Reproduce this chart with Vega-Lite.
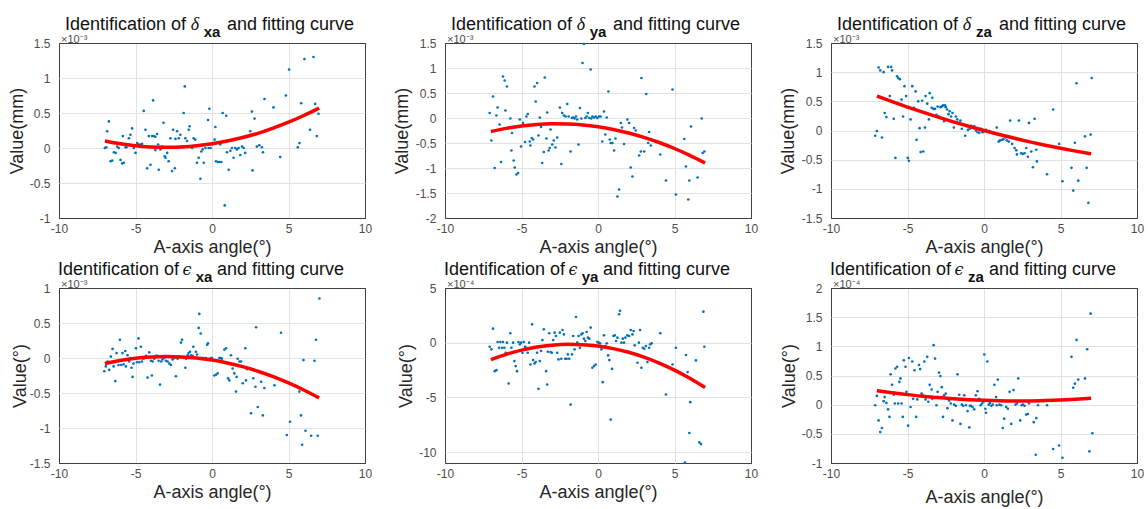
{
"$schema": "https://vega.github.io/schema/vega-lite/v6.json",
"background": "white",
"padding": {"left": 7, "top": 15, "right": 5, "bottom": 2},
"columns": 3,
"spacing": {"row": 70, "column": 80},
"bounds": "flush",
"config": {
 "font": "Liberation Sans",
 "view": {"stroke": "#404040", "strokeWidth": 1},
 "axis": {"domain": false, "ticks": false, "grid": true, "gridColor": "#e2e2e2", "labelFlush": false, "labelOverlap": false, "labelFont": "Liberation Sans", "labelFontSize": 12, "labelColor": "#4d4d4d", "titleFont": "Liberation Sans", "titleFontSize": 18, "titleFontWeight": "normal", "titleColor": "#262626"},
 "axisX": {"labelPadding": 5},
 "axisY": {"labelPadding": 9}
},
"concat": [
 {"width": 306, "height": 175,
  "layer": [
   {"data": {"name": "p1"}, "mark": {"type": "circle", "size": 7, "color": "#0072BD", "opacity": 1},
    "encoding": {
     "x": {"field": "x", "type": "quantitative", "scale": {"domain": [-10, 10], "nice": false, "zero": false}, "axis": {"values": [-10, -5, 0, 5, 10], "title": "A-axis angle(°)", "labelExpr": "'' + datum.value", "titlePadding": 4, "labelOverlap": false, "gridColor": {"condition": {"test": "abs(datum.value) == 10", "value": "#404040"}, "value": "#e2e2e2"}}},
     "y": {"field": "y", "type": "quantitative", "scale": {"domain": [-1, 1.5], "nice": false, "zero": false}, "axis": {"values": [-1, -0.5, 0, 0.5, 1, 1.5], "title": "Value(mm)", "labelExpr": "'' + datum.value", "titlePadding": 3, "labelOverlap": false, "gridColor": {"condition": {"test": "datum.value == -1 || datum.value == 1.5", "value": "#404040"}, "value": "#e2e2e2"}}}}},
   {"data": {"name": "c1"}, "mark": {"type": "line", "color": "#FF0000", "strokeWidth": 3.5, "interpolate": "monotone"},
    "encoding": {
     "x": {"field": "x", "type": "quantitative", "scale": {"domain": [-10, 10], "nice": false, "zero": false}, "axis": {"values": [-10, -5, 0, 5, 10], "title": "A-axis angle(°)", "labelExpr": "'' + datum.value", "titlePadding": 4, "labelOverlap": false, "gridColor": {"condition": {"test": "abs(datum.value) == 10", "value": "#404040"}, "value": "#e2e2e2"}}},
     "y": {"field": "y", "type": "quantitative", "scale": {"domain": [-1, 1.5], "nice": false, "zero": false}, "axis": {"values": [-1, -0.5, 0, 0.5, 1, 1.5], "title": "Value(mm)", "labelExpr": "'' + datum.value", "titlePadding": 3, "labelOverlap": false, "gridColor": {"condition": {"test": "datum.value == -1 || datum.value == 1.5", "value": "#404040"}, "value": "#e2e2e2"}}}}},
   {"data": {"values": [{"k": 1}, {"k": 2}, {"k": 3}, {"k": 4}, {"k": 5}]}, "transform": [{"filter": "datum.k == 1"}], "mark": {"type": "text", "text": "Identification of", "align": "right", "dx": -26, "dy": -18, "fontSize": 18, "color": "#111111"},
    "encoding": {
     "x": {"datum": 0, "type": "quantitative", "scale": {"domain": [-10, 10], "nice": false, "zero": false}, "axis": {"values": [-10, -5, 0, 5, 10], "title": "A-axis angle(°)", "labelExpr": "'' + datum.value", "titlePadding": 4, "labelOverlap": false, "gridColor": {"condition": {"test": "abs(datum.value) == 10", "value": "#404040"}, "value": "#e2e2e2"}}},
     "y": {"datum": 1.5, "type": "quantitative", "scale": {"domain": [-1, 1.5], "nice": false, "zero": false}, "axis": {"values": [-1, -0.5, 0, 0.5, 1, 1.5], "title": "Value(mm)", "labelExpr": "'' + datum.value", "titlePadding": 3, "labelOverlap": false, "gridColor": {"condition": {"test": "datum.value == -1 || datum.value == 1.5", "value": "#404040"}, "value": "#e2e2e2"}}}}},
   {"data": {"values": [{"k": 1}, {"k": 2}, {"k": 3}, {"k": 4}, {"k": 5}]}, "transform": [{"filter": "datum.k == 2"}], "mark": {"type": "text", "text": "δ", "align": "center", "dx": -17, "dy": -18, "fontSize": 18, "font": "Liberation Serif", "fontStyle": "italic", "color": "#111111"},
    "encoding": {
     "x": {"datum": 0, "type": "quantitative", "scale": {"domain": [-10, 10], "nice": false, "zero": false}, "axis": {"values": [-10, -5, 0, 5, 10], "title": "A-axis angle(°)", "labelExpr": "'' + datum.value", "titlePadding": 4, "labelOverlap": false, "gridColor": {"condition": {"test": "abs(datum.value) == 10", "value": "#404040"}, "value": "#e2e2e2"}}},
     "y": {"datum": 1.5, "type": "quantitative", "scale": {"domain": [-1, 1.5], "nice": false, "zero": false}, "axis": {"values": [-1, -0.5, 0, 0.5, 1, 1.5], "title": "Value(mm)", "labelExpr": "'' + datum.value", "titlePadding": 3, "labelOverlap": false, "gridColor": {"condition": {"test": "datum.value == -1 || datum.value == 1.5", "value": "#404040"}, "value": "#e2e2e2"}}}}},
   {"data": {"values": [{"k": 1}, {"k": 2}, {"k": 3}, {"k": 4}, {"k": 5}]}, "transform": [{"filter": "datum.k == 3"}], "mark": {"type": "text", "text": "xa", "align": "center", "dx": 0, "dy": -11, "fontSize": 15, "fontWeight": "bold", "color": "#111111"},
    "encoding": {
     "x": {"datum": 0, "type": "quantitative", "scale": {"domain": [-10, 10], "nice": false, "zero": false}, "axis": {"values": [-10, -5, 0, 5, 10], "title": "A-axis angle(°)", "labelExpr": "'' + datum.value", "titlePadding": 4, "labelOverlap": false, "gridColor": {"condition": {"test": "abs(datum.value) == 10", "value": "#404040"}, "value": "#e2e2e2"}}},
     "y": {"datum": 1.5, "type": "quantitative", "scale": {"domain": [-1, 1.5], "nice": false, "zero": false}, "axis": {"values": [-1, -0.5, 0, 0.5, 1, 1.5], "title": "Value(mm)", "labelExpr": "'' + datum.value", "titlePadding": 3, "labelOverlap": false, "gridColor": {"condition": {"test": "datum.value == -1 || datum.value == 1.5", "value": "#404040"}, "value": "#e2e2e2"}}}}},
   {"data": {"values": [{"k": 1}, {"k": 2}, {"k": 3}, {"k": 4}, {"k": 5}]}, "transform": [{"filter": "datum.k == 4"}], "mark": {"type": "text", "text": "and fitting curve", "align": "left", "dx": 15, "dy": -18, "fontSize": 18, "color": "#111111"},
    "encoding": {
     "x": {"datum": 0, "type": "quantitative", "scale": {"domain": [-10, 10], "nice": false, "zero": false}, "axis": {"values": [-10, -5, 0, 5, 10], "title": "A-axis angle(°)", "labelExpr": "'' + datum.value", "titlePadding": 4, "labelOverlap": false, "gridColor": {"condition": {"test": "abs(datum.value) == 10", "value": "#404040"}, "value": "#e2e2e2"}}},
     "y": {"datum": 1.5, "type": "quantitative", "scale": {"domain": [-1, 1.5], "nice": false, "zero": false}, "axis": {"values": [-1, -0.5, 0, 0.5, 1, 1.5], "title": "Value(mm)", "labelExpr": "'' + datum.value", "titlePadding": 3, "labelOverlap": false, "gridColor": {"condition": {"test": "datum.value == -1 || datum.value == 1.5", "value": "#404040"}, "value": "#e2e2e2"}}}}},
   {"data": {"values": [{"k": 1}, {"k": 2}, {"k": 3}, {"k": 4}, {"k": 5}]}, "transform": [{"filter": "datum.k == 5"}], "mark": {"type": "text", "text": "×10⁻³", "align": "left", "dx": 2, "dy": -3, "fontSize": 11, "color": "#4d4d4d"},
    "encoding": {
     "x": {"datum": -10, "type": "quantitative", "scale": {"domain": [-10, 10], "nice": false, "zero": false}, "axis": {"values": [-10, -5, 0, 5, 10], "title": "A-axis angle(°)", "labelExpr": "'' + datum.value", "titlePadding": 4, "labelOverlap": false, "gridColor": {"condition": {"test": "abs(datum.value) == 10", "value": "#404040"}, "value": "#e2e2e2"}}},
     "y": {"datum": 1.5, "type": "quantitative", "scale": {"domain": [-1, 1.5], "nice": false, "zero": false}, "axis": {"values": [-1, -0.5, 0, 0.5, 1, 1.5], "title": "Value(mm)", "labelExpr": "'' + datum.value", "titlePadding": 3, "labelOverlap": false, "gridColor": {"condition": {"test": "datum.value == -1 || datum.value == 1.5", "value": "#404040"}, "value": "#e2e2e2"}}}}}
  ]},
 {"width": 306, "height": 175,
  "layer": [
   {"data": {"name": "p2"}, "mark": {"type": "circle", "size": 7, "color": "#0072BD", "opacity": 1},
    "encoding": {
     "x": {"field": "x", "type": "quantitative", "scale": {"domain": [-10, 10], "nice": false, "zero": false}, "axis": {"values": [-10, -5, 0, 5, 10], "title": "A-axis angle(°)", "labelExpr": "'' + datum.value", "titlePadding": 4, "labelOverlap": false, "gridColor": {"condition": {"test": "abs(datum.value) == 10", "value": "#404040"}, "value": "#e2e2e2"}}},
     "y": {"field": "y", "type": "quantitative", "scale": {"domain": [-2, 1.5], "nice": false, "zero": false}, "axis": {"values": [-2, -1.5, -1, -0.5, 0, 0.5, 1, 1.5], "title": "Value(mm)", "labelExpr": "'' + datum.value", "titlePadding": 4, "labelOverlap": false, "gridColor": {"condition": {"test": "datum.value == -2 || datum.value == 1.5", "value": "#404040"}, "value": "#e2e2e2"}}}}},
   {"data": {"name": "c2"}, "mark": {"type": "line", "color": "#FF0000", "strokeWidth": 3.5, "interpolate": "monotone"},
    "encoding": {
     "x": {"field": "x", "type": "quantitative", "scale": {"domain": [-10, 10], "nice": false, "zero": false}, "axis": {"values": [-10, -5, 0, 5, 10], "title": "A-axis angle(°)", "labelExpr": "'' + datum.value", "titlePadding": 4, "labelOverlap": false, "gridColor": {"condition": {"test": "abs(datum.value) == 10", "value": "#404040"}, "value": "#e2e2e2"}}},
     "y": {"field": "y", "type": "quantitative", "scale": {"domain": [-2, 1.5], "nice": false, "zero": false}, "axis": {"values": [-2, -1.5, -1, -0.5, 0, 0.5, 1, 1.5], "title": "Value(mm)", "labelExpr": "'' + datum.value", "titlePadding": 4, "labelOverlap": false, "gridColor": {"condition": {"test": "datum.value == -2 || datum.value == 1.5", "value": "#404040"}, "value": "#e2e2e2"}}}}},
   {"data": {"values": [{"k": 1}, {"k": 2}, {"k": 3}, {"k": 4}, {"k": 5}]}, "transform": [{"filter": "datum.k == 1"}], "mark": {"type": "text", "text": "Identification of", "align": "right", "dx": -26, "dy": -18, "fontSize": 18, "color": "#111111"},
    "encoding": {
     "x": {"datum": 0, "type": "quantitative", "scale": {"domain": [-10, 10], "nice": false, "zero": false}, "axis": {"values": [-10, -5, 0, 5, 10], "title": "A-axis angle(°)", "labelExpr": "'' + datum.value", "titlePadding": 4, "labelOverlap": false, "gridColor": {"condition": {"test": "abs(datum.value) == 10", "value": "#404040"}, "value": "#e2e2e2"}}},
     "y": {"datum": 1.5, "type": "quantitative", "scale": {"domain": [-2, 1.5], "nice": false, "zero": false}, "axis": {"values": [-2, -1.5, -1, -0.5, 0, 0.5, 1, 1.5], "title": "Value(mm)", "labelExpr": "'' + datum.value", "titlePadding": 4, "labelOverlap": false, "gridColor": {"condition": {"test": "datum.value == -2 || datum.value == 1.5", "value": "#404040"}, "value": "#e2e2e2"}}}}},
   {"data": {"values": [{"k": 1}, {"k": 2}, {"k": 3}, {"k": 4}, {"k": 5}]}, "transform": [{"filter": "datum.k == 2"}], "mark": {"type": "text", "text": "δ", "align": "center", "dx": -17, "dy": -18, "fontSize": 18, "font": "Liberation Serif", "fontStyle": "italic", "color": "#111111"},
    "encoding": {
     "x": {"datum": 0, "type": "quantitative", "scale": {"domain": [-10, 10], "nice": false, "zero": false}, "axis": {"values": [-10, -5, 0, 5, 10], "title": "A-axis angle(°)", "labelExpr": "'' + datum.value", "titlePadding": 4, "labelOverlap": false, "gridColor": {"condition": {"test": "abs(datum.value) == 10", "value": "#404040"}, "value": "#e2e2e2"}}},
     "y": {"datum": 1.5, "type": "quantitative", "scale": {"domain": [-2, 1.5], "nice": false, "zero": false}, "axis": {"values": [-2, -1.5, -1, -0.5, 0, 0.5, 1, 1.5], "title": "Value(mm)", "labelExpr": "'' + datum.value", "titlePadding": 4, "labelOverlap": false, "gridColor": {"condition": {"test": "datum.value == -2 || datum.value == 1.5", "value": "#404040"}, "value": "#e2e2e2"}}}}},
   {"data": {"values": [{"k": 1}, {"k": 2}, {"k": 3}, {"k": 4}, {"k": 5}]}, "transform": [{"filter": "datum.k == 3"}], "mark": {"type": "text", "text": "ya", "align": "center", "dx": 0, "dy": -11, "fontSize": 15, "fontWeight": "bold", "color": "#111111"},
    "encoding": {
     "x": {"datum": 0, "type": "quantitative", "scale": {"domain": [-10, 10], "nice": false, "zero": false}, "axis": {"values": [-10, -5, 0, 5, 10], "title": "A-axis angle(°)", "labelExpr": "'' + datum.value", "titlePadding": 4, "labelOverlap": false, "gridColor": {"condition": {"test": "abs(datum.value) == 10", "value": "#404040"}, "value": "#e2e2e2"}}},
     "y": {"datum": 1.5, "type": "quantitative", "scale": {"domain": [-2, 1.5], "nice": false, "zero": false}, "axis": {"values": [-2, -1.5, -1, -0.5, 0, 0.5, 1, 1.5], "title": "Value(mm)", "labelExpr": "'' + datum.value", "titlePadding": 4, "labelOverlap": false, "gridColor": {"condition": {"test": "datum.value == -2 || datum.value == 1.5", "value": "#404040"}, "value": "#e2e2e2"}}}}},
   {"data": {"values": [{"k": 1}, {"k": 2}, {"k": 3}, {"k": 4}, {"k": 5}]}, "transform": [{"filter": "datum.k == 4"}], "mark": {"type": "text", "text": "and fitting curve", "align": "left", "dx": 15, "dy": -18, "fontSize": 18, "color": "#111111"},
    "encoding": {
     "x": {"datum": 0, "type": "quantitative", "scale": {"domain": [-10, 10], "nice": false, "zero": false}, "axis": {"values": [-10, -5, 0, 5, 10], "title": "A-axis angle(°)", "labelExpr": "'' + datum.value", "titlePadding": 4, "labelOverlap": false, "gridColor": {"condition": {"test": "abs(datum.value) == 10", "value": "#404040"}, "value": "#e2e2e2"}}},
     "y": {"datum": 1.5, "type": "quantitative", "scale": {"domain": [-2, 1.5], "nice": false, "zero": false}, "axis": {"values": [-2, -1.5, -1, -0.5, 0, 0.5, 1, 1.5], "title": "Value(mm)", "labelExpr": "'' + datum.value", "titlePadding": 4, "labelOverlap": false, "gridColor": {"condition": {"test": "datum.value == -2 || datum.value == 1.5", "value": "#404040"}, "value": "#e2e2e2"}}}}},
   {"data": {"values": [{"k": 1}, {"k": 2}, {"k": 3}, {"k": 4}, {"k": 5}]}, "transform": [{"filter": "datum.k == 5"}], "mark": {"type": "text", "text": "×10⁻³", "align": "left", "dx": 2, "dy": -3, "fontSize": 11, "color": "#4d4d4d"},
    "encoding": {
     "x": {"datum": -10, "type": "quantitative", "scale": {"domain": [-10, 10], "nice": false, "zero": false}, "axis": {"values": [-10, -5, 0, 5, 10], "title": "A-axis angle(°)", "labelExpr": "'' + datum.value", "titlePadding": 4, "labelOverlap": false, "gridColor": {"condition": {"test": "abs(datum.value) == 10", "value": "#404040"}, "value": "#e2e2e2"}}},
     "y": {"datum": 1.5, "type": "quantitative", "scale": {"domain": [-2, 1.5], "nice": false, "zero": false}, "axis": {"values": [-2, -1.5, -1, -0.5, 0, 0.5, 1, 1.5], "title": "Value(mm)", "labelExpr": "'' + datum.value", "titlePadding": 4, "labelOverlap": false, "gridColor": {"condition": {"test": "datum.value == -2 || datum.value == 1.5", "value": "#404040"}, "value": "#e2e2e2"}}}}}
  ]},
 {"width": 306, "height": 175,
  "layer": [
   {"data": {"name": "p3"}, "mark": {"type": "circle", "size": 7, "color": "#0072BD", "opacity": 1},
    "encoding": {
     "x": {"field": "x", "type": "quantitative", "scale": {"domain": [-10, 10], "nice": false, "zero": false}, "axis": {"values": [-10, -5, 0, 5, 10], "title": "A-axis angle(°)", "labelExpr": "'' + datum.value", "titlePadding": 4, "labelOverlap": false, "gridColor": {"condition": {"test": "abs(datum.value) == 10", "value": "#404040"}, "value": "#e2e2e2"}}},
     "y": {"field": "y", "type": "quantitative", "scale": {"domain": [-1.5, 1.5], "nice": false, "zero": false}, "axis": {"values": [-1.5, -1, -0.5, 0, 0.5, 1, 1.5], "title": "Value(mm)", "labelExpr": "'' + datum.value", "titlePadding": 4, "labelOverlap": false, "gridColor": {"condition": {"test": "abs(datum.value) == 1.5", "value": "#404040"}, "value": "#e2e2e2"}}}}},
   {"data": {"name": "c3"}, "mark": {"type": "line", "color": "#FF0000", "strokeWidth": 3.5, "interpolate": "monotone"},
    "encoding": {
     "x": {"field": "x", "type": "quantitative", "scale": {"domain": [-10, 10], "nice": false, "zero": false}, "axis": {"values": [-10, -5, 0, 5, 10], "title": "A-axis angle(°)", "labelExpr": "'' + datum.value", "titlePadding": 4, "labelOverlap": false, "gridColor": {"condition": {"test": "abs(datum.value) == 10", "value": "#404040"}, "value": "#e2e2e2"}}},
     "y": {"field": "y", "type": "quantitative", "scale": {"domain": [-1.5, 1.5], "nice": false, "zero": false}, "axis": {"values": [-1.5, -1, -0.5, 0, 0.5, 1, 1.5], "title": "Value(mm)", "labelExpr": "'' + datum.value", "titlePadding": 4, "labelOverlap": false, "gridColor": {"condition": {"test": "abs(datum.value) == 1.5", "value": "#404040"}, "value": "#e2e2e2"}}}}},
   {"data": {"values": [{"k": 1}, {"k": 2}, {"k": 3}, {"k": 4}, {"k": 5}]}, "transform": [{"filter": "datum.k == 1"}], "mark": {"type": "text", "text": "Identification of", "align": "right", "dx": -26, "dy": -18, "fontSize": 18, "color": "#111111"},
    "encoding": {
     "x": {"datum": 0, "type": "quantitative", "scale": {"domain": [-10, 10], "nice": false, "zero": false}, "axis": {"values": [-10, -5, 0, 5, 10], "title": "A-axis angle(°)", "labelExpr": "'' + datum.value", "titlePadding": 4, "labelOverlap": false, "gridColor": {"condition": {"test": "abs(datum.value) == 10", "value": "#404040"}, "value": "#e2e2e2"}}},
     "y": {"datum": 1.5, "type": "quantitative", "scale": {"domain": [-1.5, 1.5], "nice": false, "zero": false}, "axis": {"values": [-1.5, -1, -0.5, 0, 0.5, 1, 1.5], "title": "Value(mm)", "labelExpr": "'' + datum.value", "titlePadding": 4, "labelOverlap": false, "gridColor": {"condition": {"test": "abs(datum.value) == 1.5", "value": "#404040"}, "value": "#e2e2e2"}}}}},
   {"data": {"values": [{"k": 1}, {"k": 2}, {"k": 3}, {"k": 4}, {"k": 5}]}, "transform": [{"filter": "datum.k == 2"}], "mark": {"type": "text", "text": "δ", "align": "center", "dx": -17, "dy": -18, "fontSize": 18, "font": "Liberation Serif", "fontStyle": "italic", "color": "#111111"},
    "encoding": {
     "x": {"datum": 0, "type": "quantitative", "scale": {"domain": [-10, 10], "nice": false, "zero": false}, "axis": {"values": [-10, -5, 0, 5, 10], "title": "A-axis angle(°)", "labelExpr": "'' + datum.value", "titlePadding": 4, "labelOverlap": false, "gridColor": {"condition": {"test": "abs(datum.value) == 10", "value": "#404040"}, "value": "#e2e2e2"}}},
     "y": {"datum": 1.5, "type": "quantitative", "scale": {"domain": [-1.5, 1.5], "nice": false, "zero": false}, "axis": {"values": [-1.5, -1, -0.5, 0, 0.5, 1, 1.5], "title": "Value(mm)", "labelExpr": "'' + datum.value", "titlePadding": 4, "labelOverlap": false, "gridColor": {"condition": {"test": "abs(datum.value) == 1.5", "value": "#404040"}, "value": "#e2e2e2"}}}}},
   {"data": {"values": [{"k": 1}, {"k": 2}, {"k": 3}, {"k": 4}, {"k": 5}]}, "transform": [{"filter": "datum.k == 3"}], "mark": {"type": "text", "text": "za", "align": "center", "dx": 0, "dy": -11, "fontSize": 15, "fontWeight": "bold", "color": "#111111"},
    "encoding": {
     "x": {"datum": 0, "type": "quantitative", "scale": {"domain": [-10, 10], "nice": false, "zero": false}, "axis": {"values": [-10, -5, 0, 5, 10], "title": "A-axis angle(°)", "labelExpr": "'' + datum.value", "titlePadding": 4, "labelOverlap": false, "gridColor": {"condition": {"test": "abs(datum.value) == 10", "value": "#404040"}, "value": "#e2e2e2"}}},
     "y": {"datum": 1.5, "type": "quantitative", "scale": {"domain": [-1.5, 1.5], "nice": false, "zero": false}, "axis": {"values": [-1.5, -1, -0.5, 0, 0.5, 1, 1.5], "title": "Value(mm)", "labelExpr": "'' + datum.value", "titlePadding": 4, "labelOverlap": false, "gridColor": {"condition": {"test": "abs(datum.value) == 1.5", "value": "#404040"}, "value": "#e2e2e2"}}}}},
   {"data": {"values": [{"k": 1}, {"k": 2}, {"k": 3}, {"k": 4}, {"k": 5}]}, "transform": [{"filter": "datum.k == 4"}], "mark": {"type": "text", "text": "and fitting curve", "align": "left", "dx": 15, "dy": -18, "fontSize": 18, "color": "#111111"},
    "encoding": {
     "x": {"datum": 0, "type": "quantitative", "scale": {"domain": [-10, 10], "nice": false, "zero": false}, "axis": {"values": [-10, -5, 0, 5, 10], "title": "A-axis angle(°)", "labelExpr": "'' + datum.value", "titlePadding": 4, "labelOverlap": false, "gridColor": {"condition": {"test": "abs(datum.value) == 10", "value": "#404040"}, "value": "#e2e2e2"}}},
     "y": {"datum": 1.5, "type": "quantitative", "scale": {"domain": [-1.5, 1.5], "nice": false, "zero": false}, "axis": {"values": [-1.5, -1, -0.5, 0, 0.5, 1, 1.5], "title": "Value(mm)", "labelExpr": "'' + datum.value", "titlePadding": 4, "labelOverlap": false, "gridColor": {"condition": {"test": "abs(datum.value) == 1.5", "value": "#404040"}, "value": "#e2e2e2"}}}}},
   {"data": {"values": [{"k": 1}, {"k": 2}, {"k": 3}, {"k": 4}, {"k": 5}]}, "transform": [{"filter": "datum.k == 5"}], "mark": {"type": "text", "text": "×10⁻³", "align": "left", "dx": 2, "dy": -3, "fontSize": 11, "color": "#4d4d4d"},
    "encoding": {
     "x": {"datum": -10, "type": "quantitative", "scale": {"domain": [-10, 10], "nice": false, "zero": false}, "axis": {"values": [-10, -5, 0, 5, 10], "title": "A-axis angle(°)", "labelExpr": "'' + datum.value", "titlePadding": 4, "labelOverlap": false, "gridColor": {"condition": {"test": "abs(datum.value) == 10", "value": "#404040"}, "value": "#e2e2e2"}}},
     "y": {"datum": 1.5, "type": "quantitative", "scale": {"domain": [-1.5, 1.5], "nice": false, "zero": false}, "axis": {"values": [-1.5, -1, -0.5, 0, 0.5, 1, 1.5], "title": "Value(mm)", "labelExpr": "'' + datum.value", "titlePadding": 4, "labelOverlap": false, "gridColor": {"condition": {"test": "abs(datum.value) == 1.5", "value": "#404040"}, "value": "#e2e2e2"}}}}}
  ]},
 {"width": 306, "height": 175,
  "layer": [
   {"data": {"name": "p4"}, "mark": {"type": "circle", "size": 7, "color": "#0072BD", "opacity": 1},
    "encoding": {
     "x": {"field": "x", "type": "quantitative", "scale": {"domain": [-10, 10], "nice": false, "zero": false}, "axis": {"values": [-10, -5, 0, 5, 10], "title": "A-axis angle(°)", "labelExpr": "'' + datum.value", "titlePadding": 4, "labelOverlap": false, "gridColor": {"condition": {"test": "abs(datum.value) == 10", "value": "#404040"}, "value": "#e2e2e2"}}},
     "y": {"field": "y", "type": "quantitative", "scale": {"domain": [-1.5, 1], "nice": false, "zero": false}, "axis": {"values": [-1.5, -1, -0.5, 0, 0.5, 1], "title": "Value(°)", "labelExpr": "'' + datum.value", "titlePadding": 0, "labelOverlap": false, "gridColor": {"condition": {"test": "datum.value == -1.5 || datum.value == 1", "value": "#404040"}, "value": "#e2e2e2"}}}}},
   {"data": {"name": "c4"}, "mark": {"type": "line", "color": "#FF0000", "strokeWidth": 3.5, "interpolate": "monotone"},
    "encoding": {
     "x": {"field": "x", "type": "quantitative", "scale": {"domain": [-10, 10], "nice": false, "zero": false}, "axis": {"values": [-10, -5, 0, 5, 10], "title": "A-axis angle(°)", "labelExpr": "'' + datum.value", "titlePadding": 4, "labelOverlap": false, "gridColor": {"condition": {"test": "abs(datum.value) == 10", "value": "#404040"}, "value": "#e2e2e2"}}},
     "y": {"field": "y", "type": "quantitative", "scale": {"domain": [-1.5, 1], "nice": false, "zero": false}, "axis": {"values": [-1.5, -1, -0.5, 0, 0.5, 1], "title": "Value(°)", "labelExpr": "'' + datum.value", "titlePadding": 0, "labelOverlap": false, "gridColor": {"condition": {"test": "datum.value == -1.5 || datum.value == 1", "value": "#404040"}, "value": "#e2e2e2"}}}}},
   {"data": {"values": [{"k": 1}, {"k": 2}, {"k": 3}, {"k": 4}, {"k": 5}]}, "transform": [{"filter": "datum.k == 1"}], "mark": {"type": "text", "text": "Identification of", "align": "right", "dx": -33, "dy": -18, "fontSize": 18, "color": "#111111"},
    "encoding": {
     "x": {"datum": 0, "type": "quantitative", "scale": {"domain": [-10, 10], "nice": false, "zero": false}, "axis": {"values": [-10, -5, 0, 5, 10], "title": "A-axis angle(°)", "labelExpr": "'' + datum.value", "titlePadding": 4, "labelOverlap": false, "gridColor": {"condition": {"test": "abs(datum.value) == 10", "value": "#404040"}, "value": "#e2e2e2"}}},
     "y": {"datum": 1, "type": "quantitative", "scale": {"domain": [-1.5, 1], "nice": false, "zero": false}, "axis": {"values": [-1.5, -1, -0.5, 0, 0.5, 1], "title": "Value(°)", "labelExpr": "'' + datum.value", "titlePadding": 0, "labelOverlap": false, "gridColor": {"condition": {"test": "datum.value == -1.5 || datum.value == 1", "value": "#404040"}, "value": "#e2e2e2"}}}}},
   {"data": {"values": [{"k": 1}, {"k": 2}, {"k": 3}, {"k": 4}, {"k": 5}]}, "transform": [{"filter": "datum.k == 2"}], "mark": {"type": "text", "text": "ϵ", "align": "center", "dx": -25, "dy": -18, "fontSize": 16, "font": "DejaVu Serif", "fontStyle": "italic", "color": "#111111"},
    "encoding": {
     "x": {"datum": 0, "type": "quantitative", "scale": {"domain": [-10, 10], "nice": false, "zero": false}, "axis": {"values": [-10, -5, 0, 5, 10], "title": "A-axis angle(°)", "labelExpr": "'' + datum.value", "titlePadding": 4, "labelOverlap": false, "gridColor": {"condition": {"test": "abs(datum.value) == 10", "value": "#404040"}, "value": "#e2e2e2"}}},
     "y": {"datum": 1, "type": "quantitative", "scale": {"domain": [-1.5, 1], "nice": false, "zero": false}, "axis": {"values": [-1.5, -1, -0.5, 0, 0.5, 1], "title": "Value(°)", "labelExpr": "'' + datum.value", "titlePadding": 0, "labelOverlap": false, "gridColor": {"condition": {"test": "datum.value == -1.5 || datum.value == 1", "value": "#404040"}, "value": "#e2e2e2"}}}}},
   {"data": {"values": [{"k": 1}, {"k": 2}, {"k": 3}, {"k": 4}, {"k": 5}]}, "transform": [{"filter": "datum.k == 3"}], "mark": {"type": "text", "text": "xa", "align": "center", "dx": -8, "dy": -11, "fontSize": 15, "fontWeight": "bold", "color": "#111111"},
    "encoding": {
     "x": {"datum": 0, "type": "quantitative", "scale": {"domain": [-10, 10], "nice": false, "zero": false}, "axis": {"values": [-10, -5, 0, 5, 10], "title": "A-axis angle(°)", "labelExpr": "'' + datum.value", "titlePadding": 4, "labelOverlap": false, "gridColor": {"condition": {"test": "abs(datum.value) == 10", "value": "#404040"}, "value": "#e2e2e2"}}},
     "y": {"datum": 1, "type": "quantitative", "scale": {"domain": [-1.5, 1], "nice": false, "zero": false}, "axis": {"values": [-1.5, -1, -0.5, 0, 0.5, 1], "title": "Value(°)", "labelExpr": "'' + datum.value", "titlePadding": 0, "labelOverlap": false, "gridColor": {"condition": {"test": "datum.value == -1.5 || datum.value == 1", "value": "#404040"}, "value": "#e2e2e2"}}}}},
   {"data": {"values": [{"k": 1}, {"k": 2}, {"k": 3}, {"k": 4}, {"k": 5}]}, "transform": [{"filter": "datum.k == 4"}], "mark": {"type": "text", "text": "and fitting curve", "align": "left", "dx": 5, "dy": -18, "fontSize": 18, "color": "#111111"},
    "encoding": {
     "x": {"datum": 0, "type": "quantitative", "scale": {"domain": [-10, 10], "nice": false, "zero": false}, "axis": {"values": [-10, -5, 0, 5, 10], "title": "A-axis angle(°)", "labelExpr": "'' + datum.value", "titlePadding": 4, "labelOverlap": false, "gridColor": {"condition": {"test": "abs(datum.value) == 10", "value": "#404040"}, "value": "#e2e2e2"}}},
     "y": {"datum": 1, "type": "quantitative", "scale": {"domain": [-1.5, 1], "nice": false, "zero": false}, "axis": {"values": [-1.5, -1, -0.5, 0, 0.5, 1], "title": "Value(°)", "labelExpr": "'' + datum.value", "titlePadding": 0, "labelOverlap": false, "gridColor": {"condition": {"test": "datum.value == -1.5 || datum.value == 1", "value": "#404040"}, "value": "#e2e2e2"}}}}},
   {"data": {"values": [{"k": 1}, {"k": 2}, {"k": 3}, {"k": 4}, {"k": 5}]}, "transform": [{"filter": "datum.k == 5"}], "mark": {"type": "text", "text": "×10⁻³", "align": "left", "dx": 2, "dy": -3, "fontSize": 11, "color": "#4d4d4d"},
    "encoding": {
     "x": {"datum": -10, "type": "quantitative", "scale": {"domain": [-10, 10], "nice": false, "zero": false}, "axis": {"values": [-10, -5, 0, 5, 10], "title": "A-axis angle(°)", "labelExpr": "'' + datum.value", "titlePadding": 4, "labelOverlap": false, "gridColor": {"condition": {"test": "abs(datum.value) == 10", "value": "#404040"}, "value": "#e2e2e2"}}},
     "y": {"datum": 1, "type": "quantitative", "scale": {"domain": [-1.5, 1], "nice": false, "zero": false}, "axis": {"values": [-1.5, -1, -0.5, 0, 0.5, 1], "title": "Value(°)", "labelExpr": "'' + datum.value", "titlePadding": 0, "labelOverlap": false, "gridColor": {"condition": {"test": "datum.value == -1.5 || datum.value == 1", "value": "#404040"}, "value": "#e2e2e2"}}}}}
  ]},
 {"width": 306, "height": 175,
  "layer": [
   {"data": {"name": "p5"}, "mark": {"type": "circle", "size": 7, "color": "#0072BD", "opacity": 1},
    "encoding": {
     "x": {"field": "x", "type": "quantitative", "scale": {"domain": [-10, 10], "nice": false, "zero": false}, "axis": {"values": [-10, -5, 0, 5, 10], "title": "A-axis angle(°)", "labelExpr": "'' + datum.value", "titlePadding": 4, "labelOverlap": false, "gridColor": {"condition": {"test": "abs(datum.value) == 10", "value": "#404040"}, "value": "#e2e2e2"}}},
     "y": {"field": "y", "type": "quantitative", "scale": {"domain": [-11, 5], "nice": false, "zero": false}, "axis": {"values": [-10, -5, 0, 5], "title": "Value(°)", "labelExpr": "'' + datum.value", "titlePadding": 3, "labelOverlap": false, "gridColor": {"condition": {"test": "datum.value == 5", "value": "#404040"}, "value": "#e2e2e2"}}}}},
   {"data": {"name": "c5"}, "mark": {"type": "line", "color": "#FF0000", "strokeWidth": 3.5, "interpolate": "monotone"},
    "encoding": {
     "x": {"field": "x", "type": "quantitative", "scale": {"domain": [-10, 10], "nice": false, "zero": false}, "axis": {"values": [-10, -5, 0, 5, 10], "title": "A-axis angle(°)", "labelExpr": "'' + datum.value", "titlePadding": 4, "labelOverlap": false, "gridColor": {"condition": {"test": "abs(datum.value) == 10", "value": "#404040"}, "value": "#e2e2e2"}}},
     "y": {"field": "y", "type": "quantitative", "scale": {"domain": [-11, 5], "nice": false, "zero": false}, "axis": {"values": [-10, -5, 0, 5], "title": "Value(°)", "labelExpr": "'' + datum.value", "titlePadding": 3, "labelOverlap": false, "gridColor": {"condition": {"test": "datum.value == 5", "value": "#404040"}, "value": "#e2e2e2"}}}}},
   {"data": {"values": [{"k": 1}, {"k": 2}, {"k": 3}, {"k": 4}, {"k": 5}]}, "transform": [{"filter": "datum.k == 1"}], "mark": {"type": "text", "text": "Identification of", "align": "right", "dx": -33, "dy": -18, "fontSize": 18, "color": "#111111"},
    "encoding": {
     "x": {"datum": 0, "type": "quantitative", "scale": {"domain": [-10, 10], "nice": false, "zero": false}, "axis": {"values": [-10, -5, 0, 5, 10], "title": "A-axis angle(°)", "labelExpr": "'' + datum.value", "titlePadding": 4, "labelOverlap": false, "gridColor": {"condition": {"test": "abs(datum.value) == 10", "value": "#404040"}, "value": "#e2e2e2"}}},
     "y": {"datum": 5, "type": "quantitative", "scale": {"domain": [-11, 5], "nice": false, "zero": false}, "axis": {"values": [-10, -5, 0, 5], "title": "Value(°)", "labelExpr": "'' + datum.value", "titlePadding": 3, "labelOverlap": false, "gridColor": {"condition": {"test": "datum.value == 5", "value": "#404040"}, "value": "#e2e2e2"}}}}},
   {"data": {"values": [{"k": 1}, {"k": 2}, {"k": 3}, {"k": 4}, {"k": 5}]}, "transform": [{"filter": "datum.k == 2"}], "mark": {"type": "text", "text": "ϵ", "align": "center", "dx": -25, "dy": -18, "fontSize": 16, "font": "DejaVu Serif", "fontStyle": "italic", "color": "#111111"},
    "encoding": {
     "x": {"datum": 0, "type": "quantitative", "scale": {"domain": [-10, 10], "nice": false, "zero": false}, "axis": {"values": [-10, -5, 0, 5, 10], "title": "A-axis angle(°)", "labelExpr": "'' + datum.value", "titlePadding": 4, "labelOverlap": false, "gridColor": {"condition": {"test": "abs(datum.value) == 10", "value": "#404040"}, "value": "#e2e2e2"}}},
     "y": {"datum": 5, "type": "quantitative", "scale": {"domain": [-11, 5], "nice": false, "zero": false}, "axis": {"values": [-10, -5, 0, 5], "title": "Value(°)", "labelExpr": "'' + datum.value", "titlePadding": 3, "labelOverlap": false, "gridColor": {"condition": {"test": "datum.value == 5", "value": "#404040"}, "value": "#e2e2e2"}}}}},
   {"data": {"values": [{"k": 1}, {"k": 2}, {"k": 3}, {"k": 4}, {"k": 5}]}, "transform": [{"filter": "datum.k == 3"}], "mark": {"type": "text", "text": "ya", "align": "center", "dx": -8, "dy": -11, "fontSize": 15, "fontWeight": "bold", "color": "#111111"},
    "encoding": {
     "x": {"datum": 0, "type": "quantitative", "scale": {"domain": [-10, 10], "nice": false, "zero": false}, "axis": {"values": [-10, -5, 0, 5, 10], "title": "A-axis angle(°)", "labelExpr": "'' + datum.value", "titlePadding": 4, "labelOverlap": false, "gridColor": {"condition": {"test": "abs(datum.value) == 10", "value": "#404040"}, "value": "#e2e2e2"}}},
     "y": {"datum": 5, "type": "quantitative", "scale": {"domain": [-11, 5], "nice": false, "zero": false}, "axis": {"values": [-10, -5, 0, 5], "title": "Value(°)", "labelExpr": "'' + datum.value", "titlePadding": 3, "labelOverlap": false, "gridColor": {"condition": {"test": "datum.value == 5", "value": "#404040"}, "value": "#e2e2e2"}}}}},
   {"data": {"values": [{"k": 1}, {"k": 2}, {"k": 3}, {"k": 4}, {"k": 5}]}, "transform": [{"filter": "datum.k == 4"}], "mark": {"type": "text", "text": "and fitting curve", "align": "left", "dx": 5, "dy": -18, "fontSize": 18, "color": "#111111"},
    "encoding": {
     "x": {"datum": 0, "type": "quantitative", "scale": {"domain": [-10, 10], "nice": false, "zero": false}, "axis": {"values": [-10, -5, 0, 5, 10], "title": "A-axis angle(°)", "labelExpr": "'' + datum.value", "titlePadding": 4, "labelOverlap": false, "gridColor": {"condition": {"test": "abs(datum.value) == 10", "value": "#404040"}, "value": "#e2e2e2"}}},
     "y": {"datum": 5, "type": "quantitative", "scale": {"domain": [-11, 5], "nice": false, "zero": false}, "axis": {"values": [-10, -5, 0, 5], "title": "Value(°)", "labelExpr": "'' + datum.value", "titlePadding": 3, "labelOverlap": false, "gridColor": {"condition": {"test": "datum.value == 5", "value": "#404040"}, "value": "#e2e2e2"}}}}},
   {"data": {"values": [{"k": 1}, {"k": 2}, {"k": 3}, {"k": 4}, {"k": 5}]}, "transform": [{"filter": "datum.k == 5"}], "mark": {"type": "text", "text": "×10⁻⁴", "align": "left", "dx": 2, "dy": -3, "fontSize": 11, "color": "#4d4d4d"},
    "encoding": {
     "x": {"datum": -10, "type": "quantitative", "scale": {"domain": [-10, 10], "nice": false, "zero": false}, "axis": {"values": [-10, -5, 0, 5, 10], "title": "A-axis angle(°)", "labelExpr": "'' + datum.value", "titlePadding": 4, "labelOverlap": false, "gridColor": {"condition": {"test": "abs(datum.value) == 10", "value": "#404040"}, "value": "#e2e2e2"}}},
     "y": {"datum": 5, "type": "quantitative", "scale": {"domain": [-11, 5], "nice": false, "zero": false}, "axis": {"values": [-10, -5, 0, 5], "title": "Value(°)", "labelExpr": "'' + datum.value", "titlePadding": 3, "labelOverlap": false, "gridColor": {"condition": {"test": "datum.value == 5", "value": "#404040"}, "value": "#e2e2e2"}}}}}
  ]},
 {"width": 306, "height": 175,
  "layer": [
   {"data": {"name": "p6"}, "mark": {"type": "circle", "size": 7, "color": "#0072BD", "opacity": 1},
    "encoding": {
     "x": {"field": "x", "type": "quantitative", "scale": {"domain": [-10, 10], "nice": false, "zero": false}, "axis": {"values": [-10, -5, 0, 5, 10], "title": "A-axis angle(°)", "labelExpr": "'' + datum.value", "titlePadding": 9, "labelOverlap": false, "gridColor": {"condition": {"test": "abs(datum.value) == 10", "value": "#404040"}, "value": "#e2e2e2"}}},
     "y": {"field": "y", "type": "quantitative", "scale": {"domain": [-1, 2], "nice": false, "zero": false}, "axis": {"values": [-1, -0.5, 0, 0.5, 1, 1.5, 2], "title": "Value(°)", "labelExpr": "'' + datum.value", "titlePadding": 3, "labelOverlap": false, "gridColor": {"condition": {"test": "datum.value == -1 || datum.value == 2", "value": "#404040"}, "value": "#e2e2e2"}}}}},
   {"data": {"name": "c6"}, "mark": {"type": "line", "color": "#FF0000", "strokeWidth": 3.5, "interpolate": "monotone"},
    "encoding": {
     "x": {"field": "x", "type": "quantitative", "scale": {"domain": [-10, 10], "nice": false, "zero": false}, "axis": {"values": [-10, -5, 0, 5, 10], "title": "A-axis angle(°)", "labelExpr": "'' + datum.value", "titlePadding": 9, "labelOverlap": false, "gridColor": {"condition": {"test": "abs(datum.value) == 10", "value": "#404040"}, "value": "#e2e2e2"}}},
     "y": {"field": "y", "type": "quantitative", "scale": {"domain": [-1, 2], "nice": false, "zero": false}, "axis": {"values": [-1, -0.5, 0, 0.5, 1, 1.5, 2], "title": "Value(°)", "labelExpr": "'' + datum.value", "titlePadding": 3, "labelOverlap": false, "gridColor": {"condition": {"test": "datum.value == -1 || datum.value == 2", "value": "#404040"}, "value": "#e2e2e2"}}}}},
   {"data": {"values": [{"k": 1}, {"k": 2}, {"k": 3}, {"k": 4}, {"k": 5}]}, "transform": [{"filter": "datum.k == 1"}], "mark": {"type": "text", "text": "Identification of", "align": "right", "dx": -33, "dy": -18, "fontSize": 18, "color": "#111111"},
    "encoding": {
     "x": {"datum": 0, "type": "quantitative", "scale": {"domain": [-10, 10], "nice": false, "zero": false}, "axis": {"values": [-10, -5, 0, 5, 10], "title": "A-axis angle(°)", "labelExpr": "'' + datum.value", "titlePadding": 9, "labelOverlap": false, "gridColor": {"condition": {"test": "abs(datum.value) == 10", "value": "#404040"}, "value": "#e2e2e2"}}},
     "y": {"datum": 2, "type": "quantitative", "scale": {"domain": [-1, 2], "nice": false, "zero": false}, "axis": {"values": [-1, -0.5, 0, 0.5, 1, 1.5, 2], "title": "Value(°)", "labelExpr": "'' + datum.value", "titlePadding": 3, "labelOverlap": false, "gridColor": {"condition": {"test": "datum.value == -1 || datum.value == 2", "value": "#404040"}, "value": "#e2e2e2"}}}}},
   {"data": {"values": [{"k": 1}, {"k": 2}, {"k": 3}, {"k": 4}, {"k": 5}]}, "transform": [{"filter": "datum.k == 2"}], "mark": {"type": "text", "text": "ϵ", "align": "center", "dx": -25, "dy": -18, "fontSize": 16, "font": "DejaVu Serif", "fontStyle": "italic", "color": "#111111"},
    "encoding": {
     "x": {"datum": 0, "type": "quantitative", "scale": {"domain": [-10, 10], "nice": false, "zero": false}, "axis": {"values": [-10, -5, 0, 5, 10], "title": "A-axis angle(°)", "labelExpr": "'' + datum.value", "titlePadding": 9, "labelOverlap": false, "gridColor": {"condition": {"test": "abs(datum.value) == 10", "value": "#404040"}, "value": "#e2e2e2"}}},
     "y": {"datum": 2, "type": "quantitative", "scale": {"domain": [-1, 2], "nice": false, "zero": false}, "axis": {"values": [-1, -0.5, 0, 0.5, 1, 1.5, 2], "title": "Value(°)", "labelExpr": "'' + datum.value", "titlePadding": 3, "labelOverlap": false, "gridColor": {"condition": {"test": "datum.value == -1 || datum.value == 2", "value": "#404040"}, "value": "#e2e2e2"}}}}},
   {"data": {"values": [{"k": 1}, {"k": 2}, {"k": 3}, {"k": 4}, {"k": 5}]}, "transform": [{"filter": "datum.k == 3"}], "mark": {"type": "text", "text": "za", "align": "center", "dx": -8, "dy": -11, "fontSize": 15, "fontWeight": "bold", "color": "#111111"},
    "encoding": {
     "x": {"datum": 0, "type": "quantitative", "scale": {"domain": [-10, 10], "nice": false, "zero": false}, "axis": {"values": [-10, -5, 0, 5, 10], "title": "A-axis angle(°)", "labelExpr": "'' + datum.value", "titlePadding": 9, "labelOverlap": false, "gridColor": {"condition": {"test": "abs(datum.value) == 10", "value": "#404040"}, "value": "#e2e2e2"}}},
     "y": {"datum": 2, "type": "quantitative", "scale": {"domain": [-1, 2], "nice": false, "zero": false}, "axis": {"values": [-1, -0.5, 0, 0.5, 1, 1.5, 2], "title": "Value(°)", "labelExpr": "'' + datum.value", "titlePadding": 3, "labelOverlap": false, "gridColor": {"condition": {"test": "datum.value == -1 || datum.value == 2", "value": "#404040"}, "value": "#e2e2e2"}}}}},
   {"data": {"values": [{"k": 1}, {"k": 2}, {"k": 3}, {"k": 4}, {"k": 5}]}, "transform": [{"filter": "datum.k == 4"}], "mark": {"type": "text", "text": "and fitting curve", "align": "left", "dx": 5, "dy": -18, "fontSize": 18, "color": "#111111"},
    "encoding": {
     "x": {"datum": 0, "type": "quantitative", "scale": {"domain": [-10, 10], "nice": false, "zero": false}, "axis": {"values": [-10, -5, 0, 5, 10], "title": "A-axis angle(°)", "labelExpr": "'' + datum.value", "titlePadding": 9, "labelOverlap": false, "gridColor": {"condition": {"test": "abs(datum.value) == 10", "value": "#404040"}, "value": "#e2e2e2"}}},
     "y": {"datum": 2, "type": "quantitative", "scale": {"domain": [-1, 2], "nice": false, "zero": false}, "axis": {"values": [-1, -0.5, 0, 0.5, 1, 1.5, 2], "title": "Value(°)", "labelExpr": "'' + datum.value", "titlePadding": 3, "labelOverlap": false, "gridColor": {"condition": {"test": "datum.value == -1 || datum.value == 2", "value": "#404040"}, "value": "#e2e2e2"}}}}},
   {"data": {"values": [{"k": 1}, {"k": 2}, {"k": 3}, {"k": 4}, {"k": 5}]}, "transform": [{"filter": "datum.k == 5"}], "mark": {"type": "text", "text": "×10⁻⁴", "align": "left", "dx": 2, "dy": -3, "fontSize": 11, "color": "#4d4d4d"},
    "encoding": {
     "x": {"datum": -10, "type": "quantitative", "scale": {"domain": [-10, 10], "nice": false, "zero": false}, "axis": {"values": [-10, -5, 0, 5, 10], "title": "A-axis angle(°)", "labelExpr": "'' + datum.value", "titlePadding": 9, "labelOverlap": false, "gridColor": {"condition": {"test": "abs(datum.value) == 10", "value": "#404040"}, "value": "#e2e2e2"}}},
     "y": {"datum": 2, "type": "quantitative", "scale": {"domain": [-1, 2], "nice": false, "zero": false}, "axis": {"values": [-1, -0.5, 0, 0.5, 1, 1.5, 2], "title": "Value(°)", "labelExpr": "'' + datum.value", "titlePadding": 3, "labelOverlap": false, "gridColor": {"condition": {"test": "datum.value == -1 || datum.value == 2", "value": "#404040"}, "value": "#e2e2e2"}}}}}
  ]}
],
"datasets": {
 "c1": [{"x":-7,"y":0.10},{"x":-6,"y":0.06},{"x":-5,"y":0.032},{"x":-4,"y":0.016},{"x":-3,"y":0.01},{"x":-2,"y":0.016},{"x":-1,"y":0.032},{"x":0,"y":0.06},{"x":1,"y":0.10},{"x":2,"y":0.15},{"x":3,"y":0.21},{"x":4,"y":0.284},{"x":5,"y":0.368},{"x":6,"y":0.464},{"x":7,"y":0.57}],
 "c2": [{"x":-7,"y":-0.27},{"x":-6,"y":-0.207},{"x":-5,"y":-0.16},{"x":-4,"y":-0.13},{"x":-3,"y":-0.117},{"x":-2,"y":-0.12},{"x":-1,"y":-0.14},{"x":0,"y":-0.177},{"x":1,"y":-0.23},{"x":2,"y":-0.3},{"x":3,"y":-0.387},{"x":4,"y":-0.49},{"x":5,"y":-0.61},{"x":6,"y":-0.747},{"x":7,"y":-0.9}],
 "c3": [{"x":-7,"y":0.59},{"x":-6,"y":0.494},{"x":-5,"y":0.402},{"x":-4,"y":0.314},{"x":-3,"y":0.23},{"x":-2,"y":0.149},{"x":-1,"y":0.073},{"x":0,"y":0},{"x":1,"y":-0.069},{"x":2,"y":-0.134},{"x":3,"y":-0.195},{"x":4,"y":-0.252},{"x":5,"y":-0.305},{"x":6,"y":-0.354},{"x":7,"y":-0.4}],
 "c4": [{"x":-7,"y":-0.08},{"x":-6,"y":-0.037},{"x":-5,"y":-0.005},{"x":-4,"y":0.014},{"x":-3,"y":0.021},{"x":-2,"y":0.016},{"x":-1,"y":-0.001},{"x":0,"y":-0.03},{"x":1,"y":-0.071},{"x":2,"y":-0.124},{"x":3,"y":-0.189},{"x":4,"y":-0.266},{"x":5,"y":-0.356},{"x":6,"y":-0.457},{"x":7,"y":-0.57}],
 "c5": [{"x":-7,"y":-1.55},{"x":-6,"y":-1.065},{"x":-5,"y":-0.683},{"x":-4,"y":-0.403},{"x":-3,"y":-0.226},{"x":-2,"y":-0.151},{"x":-1,"y":-0.179},{"x":0,"y":-0.31},{"x":1,"y":-0.543},{"x":2,"y":-0.879},{"x":3,"y":-1.318},{"x":4,"y":-1.859},{"x":5,"y":-2.503},{"x":6,"y":-3.249},{"x":7,"y":-4.098}],
 "c6": [{"x":-7,"y":0.24},{"x":-6,"y":0.204},{"x":-5,"y":0.172},{"x":-4,"y":0.145},{"x":-3,"y":0.121},{"x":-2,"y":0.102},{"x":-1,"y":0.086},{"x":0,"y":0.075},{"x":1,"y":0.068},{"x":2,"y":0.065},{"x":3,"y":0.065},{"x":4,"y":0.07},{"x":5,"y":0.08},{"x":6,"y":0.093},{"x":7,"y":0.11}],
 "p1": [{"x":-7.0,"y":0.0},{"x":-6.91,"y":0.01},{"x":-6.85,"y":0.24},{"x":-6.74,"y":0.38},{"x":-6.63,"y":-0.19},{"x":-6.52,"y":-0.18},{"x":-6.41,"y":-0.06},{"x":-6.3,"y":-0.07},{"x":-6.2,"y":0.02},{"x":-6.09,"y":0.0},{"x":-5.98,"y":-0.17},{"x":-5.87,"y":-0.22},{"x":-5.83,"y":0.17},{"x":-5.76,"y":-0.21},{"x":-5.65,"y":0.01},{"x":-5.59,"y":0.01},{"x":-5.43,"y":0.14},{"x":-5.33,"y":0.19},{"x":-5.22,"y":0.28},{"x":-5.11,"y":0.0},{"x":-5.0,"y":-0.07},{"x":-4.89,"y":0.07},{"x":-4.78,"y":0.05},{"x":-4.67,"y":0.05},{"x":-4.57,"y":0.06},{"x":-4.46,"y":0.53},{"x":-4.35,"y":0.26},{"x":-4.24,"y":-0.29},{"x":-4.13,"y":0.17},{"x":-4.02,"y":-0.24},{"x":-3.91,"y":0.17},{"x":-3.8,"y":0.17},{"x":-3.7,"y":0.16},{"x":-3.85,"y":0.68},{"x":-3.7,"y":-0.03},{"x":-3.59,"y":0.2},{"x":-3.52,"y":0.05},{"x":-3.48,"y":-0.31},{"x":-3.37,"y":-0.02},{"x":-3.26,"y":0.02},{"x":-3.17,"y":0.36},{"x":-3.09,"y":-0.12},{"x":-3.04,"y":-0.14},{"x":-2.93,"y":-0.07},{"x":-2.83,"y":-0.19},{"x":-2.72,"y":0.14},{"x":-2.61,"y":-0.33},{"x":-2.54,"y":0.26},{"x":-2.43,"y":-0.29},{"x":-2.39,"y":0.13},{"x":-2.28,"y":0.24},{"x":-2.17,"y":0.14},{"x":-2.07,"y":0.19},{"x":-1.96,"y":0.02},{"x":-1.85,"y":0.5},{"x":-1.78,"y":0.88},{"x":-1.74,"y":0.14},{"x":-1.63,"y":0.1},{"x":-1.52,"y":0.26},{"x":-1.46,"y":0.31},{"x":-1.3,"y":0.0},{"x":-1.2,"y":0.14},{"x":-1.09,"y":0.12},{"x":-0.98,"y":-0.21},{"x":-0.87,"y":-0.14},{"x":-0.76,"y":-0.44},{"x":-0.7,"y":-0.05},{"x":-0.61,"y":-0.02},{"x":-0.54,"y":-0.21},{"x":-0.43,"y":0.0},{"x":-0.33,"y":0.05},{"x":-0.26,"y":0.4},{"x":-0.22,"y":0.0},{"x":-0.17,"y":0.56},{"x":-0.09,"y":0.0},{"x":0.0,"y":0.05},{"x":0.17,"y":0.12},{"x":0.22,"y":0.3},{"x":0.26,"y":-0.19},{"x":0.39,"y":-0.2},{"x":0.48,"y":-0.2},{"x":0.54,"y":0.05},{"x":0.61,"y":-0.2},{"x":0.7,"y":0.5},{"x":0.83,"y":-0.82},{"x":0.93,"y":0.46},{"x":0.98,"y":-0.06},{"x":1.09,"y":-0.31},{"x":1.2,"y":-0.04},{"x":1.3,"y":0.0},{"x":1.41,"y":-0.14},{"x":1.52,"y":0.0},{"x":1.63,"y":-0.02},{"x":1.74,"y":0.0},{"x":1.85,"y":-0.1},{"x":1.96,"y":0.02},{"x":2.07,"y":0.0},{"x":2.17,"y":-0.07},{"x":2.5,"y":0.24},{"x":2.61,"y":0.52},{"x":2.65,"y":-0.32},{"x":2.78,"y":0.42},{"x":2.93,"y":0.02},{"x":3.09,"y":0.04},{"x":3.26,"y":0.01},{"x":3.33,"y":-0.06},{"x":3.43,"y":0.7},{"x":4.02,"y":0.58},{"x":4.46,"y":-0.13},{"x":4.83,"y":0.75},{"x":5.04,"y":1.12},{"x":5.61,"y":0.01},{"x":5.72,"y":0.07},{"x":5.83,"y":0.64},{"x":6.04,"y":1.27},{"x":6.41,"y":0.26},{"x":6.63,"y":1.3},{"x":6.74,"y":0.63},{"x":6.85,"y":0.17},{"x":6.96,"y":0.49}],
 "p2": [{"x":-7.08,"y":0.1},{"x":-6.97,"y":-0.45},{"x":-6.86,"y":0.43},{"x":-6.75,"y":-1.0},{"x":-6.64,"y":0.05},{"x":-6.56,"y":0.21},{"x":-6.43,"y":-0.13},{"x":-6.34,"y":-0.88},{"x":-6.21,"y":0.83},{"x":-6.1,"y":0.75},{"x":-6.05,"y":0.15},{"x":-5.95,"y":0.63},{"x":-5.73,"y":-0.01},{"x":-5.66,"y":-0.65},{"x":-5.62,"y":-0.3},{"x":-5.51,"y":-0.85},{"x":-5.44,"y":-0.99},{"x":-5.33,"y":-1.13},{"x":-5.22,"y":-1.1},{"x":-5.11,"y":-0.03},{"x":-5.03,"y":-0.57},{"x":-4.9,"y":-0.1},{"x":-4.77,"y":-0.48},{"x":-4.68,"y":0.03},{"x":-4.59,"y":0.08},{"x":-4.46,"y":-0.47},{"x":-4.42,"y":-0.55},{"x":-4.33,"y":-0.4},{"x":-4.24,"y":-0.43},{"x":-4.15,"y":0.63},{"x":-4.07,"y":0.33},{"x":-3.98,"y":0.7},{"x":-3.89,"y":-0.35},{"x":-3.8,"y":0.01},{"x":-3.72,"y":-0.18},{"x":-3.65,"y":-0.9},{"x":-3.54,"y":-0.68},{"x":-3.48,"y":0.81},{"x":-3.37,"y":-0.41},{"x":-3.32,"y":0.11},{"x":-3.23,"y":-0.65},{"x":-3.15,"y":-0.6},{"x":-3.1,"y":-0.23},{"x":-2.99,"y":-0.53},{"x":-2.89,"y":-0.45},{"x":-2.78,"y":-0.59},{"x":-2.67,"y":-0.39},{"x":-2.49,"y":0.21},{"x":-2.4,"y":-0.92},{"x":-2.34,"y":0.1},{"x":-2.23,"y":0.05},{"x":-2.12,"y":0.03},{"x":-2.01,"y":0.28},{"x":-1.92,"y":0.03},{"x":-1.79,"y":-0.67},{"x":-1.7,"y":0.0},{"x":-1.62,"y":0.01},{"x":-1.53,"y":-0.01},{"x":-1.44,"y":0.03},{"x":-1.36,"y":-0.03},{"x":-1.27,"y":-0.53},{"x":-1.18,"y":0.2},{"x":-1.09,"y":-0.01},{"x":-1.01,"y":1.1},{"x":-0.92,"y":1.48},{"x":-0.83,"y":0.0},{"x":-0.74,"y":0.03},{"x":-0.66,"y":0.1},{"x":-0.57,"y":0.0},{"x":-0.48,"y":0.97},{"x":-0.44,"y":-0.01},{"x":-0.37,"y":0.03},{"x":-0.26,"y":0.01},{"x":-0.15,"y":0.03},{"x":-0.04,"y":0.0},{"x":0.07,"y":0.03},{"x":0.17,"y":0.03},{"x":0.28,"y":-0.47},{"x":0.39,"y":0.13},{"x":0.48,"y":-0.33},{"x":0.57,"y":0.01},{"x":0.68,"y":0.53},{"x":0.77,"y":-0.43},{"x":0.83,"y":-0.5},{"x":0.94,"y":-0.5},{"x":1.05,"y":-0.65},{"x":1.14,"y":-0.41},{"x":1.27,"y":-1.57},{"x":1.38,"y":-1.43},{"x":1.49,"y":-0.1},{"x":1.57,"y":-0.19},{"x":1.7,"y":-0.52},{"x":1.92,"y":-0.03},{"x":2.03,"y":-0.1},{"x":2.14,"y":-0.99},{"x":2.25,"y":-1.17},{"x":2.36,"y":-0.2},{"x":2.47,"y":-0.25},{"x":2.69,"y":-0.75},{"x":2.8,"y":-0.67},{"x":2.84,"y":0.8},{"x":3.02,"y":-0.67},{"x":3.15,"y":0.48},{"x":3.28,"y":-0.5},{"x":3.34,"y":-0.28},{"x":3.45,"y":-0.55},{"x":4.07,"y":-0.73},{"x":4.44,"y":-1.25},{"x":4.87,"y":0.57},{"x":5.09,"y":-1.53},{"x":5.64,"y":-0.42},{"x":5.75,"y":-0.97},{"x":5.9,"y":-1.63},{"x":5.97,"y":-1.25},{"x":6.08,"y":-0.17},{"x":6.51,"y":-1.19},{"x":6.78,"y":-0.01},{"x":6.84,"y":-0.7},{"x":6.95,"y":-0.67}],
 "p3": [{"x":-7.11,"y":-0.09},{"x":-7.0,"y":-0.01},{"x":-6.89,"y":1.08},{"x":-6.78,"y":1.03},{"x":-6.67,"y":-0.12},{"x":-6.56,"y":1.0},{"x":-6.49,"y":0.3},{"x":-6.38,"y":0.23},{"x":-6.27,"y":1.09},{"x":-6.16,"y":0.59},{"x":-6.07,"y":1.09},{"x":-6.01,"y":1.03},{"x":-5.9,"y":0.2},{"x":-5.79,"y":-0.47},{"x":-5.68,"y":0.93},{"x":-5.61,"y":0.9},{"x":-5.5,"y":0.88},{"x":-5.39,"y":0.53},{"x":-5.29,"y":0.24},{"x":-5.2,"y":0.76},{"x":-5.09,"y":0.59},{"x":-4.98,"y":-0.47},{"x":-4.91,"y":-0.52},{"x":-4.8,"y":0.19},{"x":-4.69,"y":0.76},{"x":-4.58,"y":0.39},{"x":-4.47,"y":0.67},{"x":-4.41,"y":-0.16},{"x":-4.3,"y":0.5},{"x":-4.21,"y":0.04},{"x":-4.14,"y":-0.37},{"x":-4.04,"y":0.51},{"x":-3.97,"y":-0.36},{"x":-3.86,"y":0.05},{"x":-3.82,"y":0.59},{"x":-3.71,"y":0.46},{"x":-3.6,"y":0.19},{"x":-3.55,"y":0.64},{"x":-3.42,"y":0.39},{"x":-3.38,"y":0.56},{"x":-3.31,"y":0.37},{"x":-3.2,"y":0.37},{"x":-3.11,"y":0.27},{"x":-3.03,"y":0.41},{"x":-2.94,"y":0.24},{"x":-2.85,"y":0.4},{"x":-2.76,"y":0.41},{"x":-2.68,"y":0.43},{"x":-2.61,"y":0.16},{"x":-2.54,"y":0.43},{"x":-2.5,"y":0.4},{"x":-2.41,"y":0.36},{"x":-2.32,"y":0.28},{"x":-2.24,"y":0.33},{"x":-2.15,"y":0.24},{"x":-2.06,"y":0.3},{"x":-1.97,"y":0.05},{"x":-1.84,"y":0.24},{"x":-1.75,"y":0.19},{"x":-1.62,"y":0.13},{"x":-1.54,"y":0.17},{"x":-1.45,"y":0.03},{"x":-1.36,"y":0.1},{"x":-1.23,"y":-0.09},{"x":-1.14,"y":0.09},{"x":-1.05,"y":0.01},{"x":-0.92,"y":0.03},{"x":-0.83,"y":0.08},{"x":-0.75,"y":0.05},{"x":-0.64,"y":0.07},{"x":-0.53,"y":0.0},{"x":-0.42,"y":-0.03},{"x":-0.31,"y":-0.04},{"x":-0.2,"y":0.03},{"x":-0.09,"y":-0.03},{"x":0.02,"y":-0.01},{"x":0.13,"y":0.01},{"x":0.35,"y":-0.01},{"x":0.46,"y":-0.03},{"x":0.57,"y":-0.04},{"x":0.83,"y":0.05},{"x":0.96,"y":-0.19},{"x":1.05,"y":-0.17},{"x":1.18,"y":-0.16},{"x":1.27,"y":-0.15},{"x":1.4,"y":-0.12},{"x":1.49,"y":-0.17},{"x":1.62,"y":-0.19},{"x":1.71,"y":0.17},{"x":1.84,"y":-0.23},{"x":2.0,"y":-0.3},{"x":2.11,"y":-0.34},{"x":2.15,"y":-0.41},{"x":2.28,"y":0.17},{"x":2.43,"y":-0.39},{"x":2.54,"y":-0.4},{"x":2.65,"y":-0.39},{"x":2.76,"y":-0.3},{"x":2.87,"y":-0.45},{"x":2.94,"y":0.13},{"x":3.09,"y":-0.36},{"x":3.2,"y":-0.63},{"x":3.31,"y":0.2},{"x":3.42,"y":-0.33},{"x":3.46,"y":-0.53},{"x":4.12,"y":-0.75},{"x":4.52,"y":0.36},{"x":4.91,"y":-0.23},{"x":5.13,"y":-0.87},{"x":5.72,"y":-0.64},{"x":5.83,"y":-1.03},{"x":5.94,"y":-0.21},{"x":6.05,"y":0.81},{"x":6.16,"y":-0.86},{"x":6.6,"y":-0.1},{"x":6.71,"y":-0.64},{"x":6.82,"y":-1.24},{"x":6.97,"y":-0.07},{"x":7.04,"y":0.9}],
 "p4": [{"x":-7.04,"y":-0.19},{"x":-6.94,"y":-0.12},{"x":-6.83,"y":-0.05},{"x":-6.72,"y":-0.17},{"x":-6.61,"y":0.02},{"x":-6.5,"y":0.13},{"x":-6.43,"y":-0.12},{"x":-6.32,"y":-0.33},{"x":-6.24,"y":0.07},{"x":-6.11,"y":-0.1},{"x":-6.02,"y":0.26},{"x":-5.93,"y":-0.1},{"x":-5.85,"y":0.07},{"x":-5.78,"y":-0.09},{"x":-5.67,"y":0.1},{"x":-5.63,"y":-0.12},{"x":-5.52,"y":0.04},{"x":-5.41,"y":-0.05},{"x":-5.34,"y":0.0},{"x":-5.26,"y":-0.14},{"x":-5.19,"y":-0.27},{"x":-5.13,"y":-0.08},{"x":-4.97,"y":0.14},{"x":-4.91,"y":-0.06},{"x":-4.8,"y":0.28},{"x":-4.75,"y":-0.06},{"x":-4.65,"y":0.16},{"x":-4.58,"y":-0.05},{"x":-4.49,"y":-0.01},{"x":-4.41,"y":0.0},{"x":-4.32,"y":0.03},{"x":-4.21,"y":-0.28},{"x":-4.1,"y":0.08},{"x":-3.99,"y":-0.04},{"x":-3.93,"y":-0.25},{"x":-3.88,"y":-0.05},{"x":-3.77,"y":-0.01},{"x":-3.66,"y":0.03},{"x":-3.58,"y":0.03},{"x":-3.49,"y":-0.04},{"x":-3.4,"y":-0.38},{"x":-3.32,"y":-0.05},{"x":-3.23,"y":-0.02},{"x":-3.12,"y":0.0},{"x":-3.01,"y":-0.04},{"x":-2.9,"y":-0.05},{"x":-2.79,"y":-0.08},{"x":-2.68,"y":-0.1},{"x":-2.57,"y":-0.02},{"x":-2.46,"y":0.0},{"x":-2.36,"y":-0.26},{"x":-2.25,"y":-0.01},{"x":-2.14,"y":0.02},{"x":-2.03,"y":0.22},{"x":-1.96,"y":0.26},{"x":-1.85,"y":0.0},{"x":-1.74,"y":-0.14},{"x":-1.7,"y":-0.01},{"x":-1.59,"y":0.04},{"x":-1.53,"y":0.07},{"x":-1.44,"y":0.09},{"x":-1.37,"y":0.04},{"x":-1.26,"y":0.03},{"x":-1.22,"y":0.16},{"x":-1.11,"y":0.0},{"x":-1.05,"y":0.09},{"x":-0.98,"y":0.05},{"x":-0.87,"y":0.43},{"x":-0.83,"y":0.63},{"x":-0.74,"y":0.35},{"x":-0.65,"y":0.0},{"x":-0.57,"y":0.0},{"x":-0.5,"y":-0.01},{"x":-0.39,"y":0.0},{"x":-0.31,"y":0.19},{"x":-0.26,"y":0.21},{"x":-0.17,"y":-0.01},{"x":-0.07,"y":0.0},{"x":0.0,"y":0.0},{"x":0.15,"y":-0.25},{"x":0.26,"y":-0.24},{"x":0.37,"y":-0.22},{"x":0.48,"y":0.0},{"x":0.59,"y":0.0},{"x":0.65,"y":-0.01},{"x":0.81,"y":0.12},{"x":0.92,"y":0.14},{"x":1.05,"y":-0.29},{"x":1.13,"y":-0.32},{"x":1.24,"y":0.04},{"x":1.35,"y":-0.15},{"x":1.46,"y":-0.22},{"x":1.57,"y":-0.48},{"x":1.61,"y":-0.27},{"x":1.68,"y":-0.01},{"x":1.79,"y":-0.05},{"x":1.9,"y":-0.05},{"x":2.01,"y":-0.36},{"x":2.18,"y":0.14},{"x":2.22,"y":-0.32},{"x":2.29,"y":-0.16},{"x":2.55,"y":-0.79},{"x":2.7,"y":-0.29},{"x":2.84,"y":-0.41},{"x":2.88,"y":0.44},{"x":2.99,"y":-0.7},{"x":3.21,"y":-0.34},{"x":3.32,"y":-0.82},{"x":3.42,"y":-0.43},{"x":4.08,"y":-0.39},{"x":4.51,"y":0.36},{"x":4.89,"y":-1.1},{"x":5.1,"y":-0.91},{"x":5.71,"y":-0.48},{"x":5.82,"y":-0.82},{"x":5.89,"y":-1.24},{"x":5.98,"y":-0.03},{"x":6.11,"y":-1.04},{"x":6.48,"y":-1.11},{"x":6.7,"y":-0.04},{"x":6.8,"y":0.26},{"x":6.91,"y":-1.11},{"x":7.02,"y":0.85}],
 "p5": [{"x":-7.08,"y":-0.37},{"x":-6.97,"y":-0.61},{"x":-6.86,"y":1.28},{"x":-6.75,"y":-2.6},{"x":-6.64,"y":-2.51},{"x":-6.56,"y":0.06},{"x":-6.47,"y":-0.46},{"x":-6.38,"y":0.06},{"x":-6.27,"y":-0.46},{"x":-6.21,"y":0.06},{"x":-6.12,"y":-0.46},{"x":-6.03,"y":-0.92},{"x":-5.95,"y":0.0},{"x":-5.84,"y":-3.73},{"x":-5.73,"y":0.86},{"x":-5.66,"y":-0.46},{"x":-5.55,"y":0.0},{"x":-5.46,"y":-1.68},{"x":-5.38,"y":-2.14},{"x":-5.29,"y":-2.6},{"x":-5.2,"y":0.06},{"x":-5.11,"y":-0.15},{"x":-5.03,"y":0.0},{"x":-4.94,"y":-0.92},{"x":-4.85,"y":0.06},{"x":-4.77,"y":-0.37},{"x":-4.68,"y":-0.46},{"x":-4.59,"y":-0.92},{"x":-4.5,"y":0.0},{"x":-4.42,"y":-1.99},{"x":-4.31,"y":1.68},{"x":-4.24,"y":-1.59},{"x":-4.15,"y":-1.9},{"x":-4.07,"y":-1.77},{"x":-3.98,"y":-0.92},{"x":-3.89,"y":-4.22},{"x":-3.8,"y":-1.68},{"x":-3.72,"y":-0.76},{"x":-3.63,"y":0.24},{"x":-3.54,"y":1.22},{"x":-3.48,"y":-0.31},{"x":-3.39,"y":-2.6},{"x":-3.32,"y":-3.82},{"x":-3.28,"y":-0.83},{"x":-3.19,"y":0.86},{"x":-3.1,"y":-0.86},{"x":-3.02,"y":-0.92},{"x":-2.93,"y":0.24},{"x":-2.84,"y":0.92},{"x":-2.75,"y":0.61},{"x":-2.67,"y":-0.92},{"x":-2.58,"y":-1.53},{"x":-2.49,"y":0.92},{"x":-2.4,"y":-1.47},{"x":-2.32,"y":1.16},{"x":-2.23,"y":0.76},{"x":-2.14,"y":-1.47},{"x":-2.05,"y":-1.47},{"x":-1.97,"y":-1.07},{"x":-1.88,"y":-1.47},{"x":-1.79,"y":-5.66},{"x":-1.7,"y":-1.07},{"x":-1.62,"y":0.61},{"x":-1.53,"y":-0.61},{"x":-1.44,"y":2.35},{"x":-1.36,"y":0.0},{"x":-1.27,"y":0.61},{"x":-1.18,"y":-0.46},{"x":-1.09,"y":0.76},{"x":-1.01,"y":0.86},{"x":-0.92,"y":0.37},{"x":-0.83,"y":0.15},{"x":-0.74,"y":0.98},{"x":-0.66,"y":0.46},{"x":-0.57,"y":0.37},{"x":-0.48,"y":1.38},{"x":-0.37,"y":-2.29},{"x":-0.26,"y":-2.14},{"x":-0.15,"y":-1.99},{"x":-0.04,"y":0.06},{"x":0.04,"y":0.0},{"x":0.13,"y":-0.06},{"x":0.22,"y":-0.61},{"x":0.31,"y":-3.61},{"x":0.39,"y":0.67},{"x":0.48,"y":-0.31},{"x":0.57,"y":-0.06},{"x":0.66,"y":-1.16},{"x":0.74,"y":-1.59},{"x":0.83,"y":-7.03},{"x":0.92,"y":-2.39},{"x":1.01,"y":0.61},{"x":1.09,"y":0.67},{"x":1.18,"y":0.15},{"x":1.27,"y":0.46},{"x":1.38,"y":2.6},{"x":1.44,"y":2.91},{"x":1.53,"y":0.0},{"x":1.62,"y":0.37},{"x":1.7,"y":0.0},{"x":1.79,"y":0.46},{"x":1.92,"y":0.67},{"x":2.03,"y":0.61},{"x":2.14,"y":1.16},{"x":2.25,"y":0.76},{"x":2.32,"y":1.07},{"x":2.4,"y":-0.24},{"x":2.58,"y":-1.83},{"x":2.67,"y":0.0},{"x":2.75,"y":1.16},{"x":2.84,"y":-2.29},{"x":2.93,"y":-0.46},{"x":3.02,"y":-0.55},{"x":3.13,"y":-0.31},{"x":3.23,"y":-1.77},{"x":3.34,"y":-0.46},{"x":3.41,"y":-0.15},{"x":3.5,"y":-0.06},{"x":4.07,"y":0.86},{"x":4.44,"y":-4.74},{"x":4.87,"y":-1.99},{"x":5.09,"y":-0.46},{"x":5.68,"y":-10.95},{"x":5.75,"y":-1.13},{"x":5.86,"y":-2.69},{"x":5.97,"y":-8.26},{"x":6.03,"y":-5.44},{"x":6.4,"y":-1.62},{"x":6.62,"y":-9.11},{"x":6.73,"y":-9.27},{"x":6.89,"y":2.84},{"x":6.95,"y":-0.37}],
 "p6": [{"x":-7.11,"y":-0.01},{"x":-7.0,"y":0.15},{"x":-6.89,"y":-0.27},{"x":-6.78,"y":-0.47},{"x":-6.67,"y":-0.4},{"x":-6.56,"y":0.06},{"x":-6.49,"y":0.13},{"x":-6.38,"y":0.03},{"x":-6.27,"y":-0.08},{"x":-6.18,"y":-0.21},{"x":-6.1,"y":0.52},{"x":-6.01,"y":0.34},{"x":-5.9,"y":0.17},{"x":-5.83,"y":0.02},{"x":-5.79,"y":0.62},{"x":-5.68,"y":0.65},{"x":-5.61,"y":0.02},{"x":-5.53,"y":0.39},{"x":-5.46,"y":0.45},{"x":-5.39,"y":0.02},{"x":-5.31,"y":-0.21},{"x":-5.24,"y":0.76},{"x":-5.13,"y":0.65},{"x":-5.07,"y":0.22},{"x":-4.96,"y":-0.36},{"x":-4.91,"y":0.8},{"x":-4.8,"y":-0.04},{"x":-4.69,"y":0.74},{"x":-4.63,"y":0.1},{"x":-4.54,"y":0.59},{"x":-4.43,"y":-0.21},{"x":-4.36,"y":0.09},{"x":-4.25,"y":0.68},{"x":-4.17,"y":0.61},{"x":-4.08,"y":0.19},{"x":-3.99,"y":0.16},{"x":-3.9,"y":0.74},{"x":-3.82,"y":0.09},{"x":-3.71,"y":0.82},{"x":-3.64,"y":0.05},{"x":-3.55,"y":0.34},{"x":-3.42,"y":0.26},{"x":-3.38,"y":0.1},{"x":-3.29,"y":1.02},{"x":-3.2,"y":0.79},{"x":-3.11,"y":-0.01},{"x":-3.03,"y":0.22},{"x":-2.94,"y":0.55},{"x":-2.85,"y":0.49},{"x":-2.76,"y":0.3},{"x":-2.68,"y":-0.21},{"x":-2.61,"y":0.16},{"x":-2.5,"y":0.19},{"x":-2.39,"y":-0.06},{"x":-2.28,"y":0.07},{"x":-2.17,"y":0.02},{"x":-2.06,"y":-0.27},{"x":-1.95,"y":0.0},{"x":-1.84,"y":-0.02},{"x":-1.73,"y":0.52},{"x":-1.62,"y":0.17},{"x":-1.54,"y":-0.33},{"x":-1.45,"y":0.0},{"x":-1.36,"y":-0.02},{"x":-1.29,"y":0.16},{"x":-1.18,"y":-0.01},{"x":-1.07,"y":-0.11},{"x":-0.96,"y":-0.39},{"x":-0.92,"y":-0.02},{"x":-0.86,"y":-0.02},{"x":-0.75,"y":-0.04},{"x":-0.64,"y":-0.08},{"x":-0.53,"y":0.16},{"x":-0.42,"y":0.23},{"x":-0.31,"y":0.1},{"x":-0.22,"y":-0.01},{"x":-0.13,"y":0.02},{"x":-0.04,"y":0.05},{"x":0.02,"y":0.86},{"x":0.09,"y":-0.07},{"x":0.13,"y":-0.14},{"x":0.22,"y":0.74},{"x":0.31,"y":0.0},{"x":0.39,"y":0.03},{"x":0.48,"y":-0.02},{"x":0.57,"y":0.0},{"x":0.68,"y":0.34},{"x":0.79,"y":0.13},{"x":0.83,"y":-0.01},{"x":0.9,"y":0.43},{"x":1.01,"y":0.0},{"x":1.12,"y":-0.01},{"x":1.23,"y":-0.4},{"x":1.32,"y":-0.24},{"x":1.45,"y":-0.04},{"x":1.56,"y":-0.07},{"x":1.67,"y":0.22},{"x":1.78,"y":-0.33},{"x":1.93,"y":0.25},{"x":2.06,"y":0.0},{"x":2.15,"y":0.02},{"x":2.24,"y":0.45},{"x":2.37,"y":-0.27},{"x":2.46,"y":-0.01},{"x":2.54,"y":0.0},{"x":2.65,"y":-0.02},{"x":2.76,"y":-0.17},{"x":2.87,"y":-0.16},{"x":2.94,"y":0.02},{"x":3.25,"y":-0.3},{"x":3.38,"y":-0.86},{"x":3.42,"y":-0.23},{"x":3.53,"y":-0.01},{"x":4.12,"y":-0.01},{"x":4.52,"y":-0.76},{"x":4.91,"y":-0.7},{"x":5.13,"y":-0.91},{"x":5.72,"y":0.82},{"x":5.83,"y":0.29},{"x":5.94,"y":0.36},{"x":6.05,"y":1.11},{"x":6.16,"y":0.43},{"x":6.6,"y":0.45},{"x":6.75,"y":0.95},{"x":6.89,"y":-0.8},{"x":6.97,"y":1.56},{"x":7.08,"y":-0.49}]
}
}
